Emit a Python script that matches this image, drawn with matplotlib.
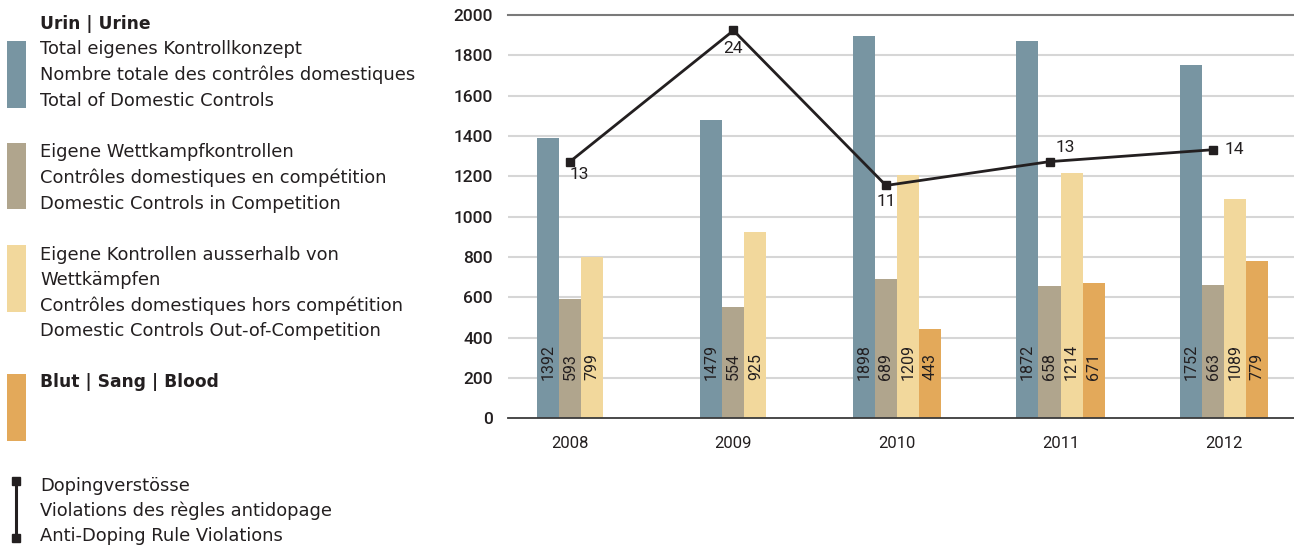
import matplotlib
matplotlib.use("Agg")
import matplotlib.pyplot as plt
from matplotlib.patches import Rectangle
from matplotlib.lines import Line2D

# Data
years = ["2008", "2009", "2010", "2011", "2012"]
urine_total = [1392, 1479, 1898, 1872, 1752]
urine_in_comp = [593, 554, 689, 658, 663]
urine_out_comp = [799, 925, 1209, 1214, 1089]
blood = [None, None, 443, 671, 779]
violations = [13, 24, 11, 13, 14]
y_ticks = [0, 200, 400, 600, 800, 1000, 1200, 1400, 1600, 1800, 2000]

# Styling
C_TOTAL = "#7895A2"
C_COMP = "#B0A58D"
C_OOC = "#F2D89C"
C_BLOOD = "#E3A95A"
C_TEXT = "#231F20"
FONT = ["Roboto", "DejaVu Sans"]
LEGEND_FONT = ["DejaVu Sans"]
NARROW = ["Liberation Sans Narrow", "Roboto", "DejaVu Sans"]
plt.rcParams["font.family"] = FONT

W, H = 1294, 547
fig = plt.figure(figsize=(W / 100, H / 100), dpi=100)

ax_l, ax_r, ax_b, ax_t = 508, 1294, 418.3, 15
ax = fig.add_axes([ax_l / W, 1 - ax_b / H, (ax_r - ax_l) / W, (ax_b - ax_t) / H])

bw = 0.1346
x = list(range(len(years)))
line_x = []
for i in x:
    series = [(urine_total[i], C_TOTAL), (urine_in_comp[i], C_COMP),
              (urine_out_comp[i], C_OOC)]
    if blood[i] is not None:
        series.append((blood[i], C_BLOOD))
    n = len(series)
    for k, (v, c) in enumerate(series):
        xc = i + (k - (n - 1) / 2) * bw
        ax.bar(xc, v, width=bw, color=c, zorder=2, linewidth=0)
        ax.text(xc, 188, str(v), rotation=90, ha="center", va="bottom",
                fontsize=11.5, color=C_TEXT, family=NARROW, zorder=4)
    line_x.append(i + (1 - (n - 1) / 2) * bw)

ax.set_xlim(-0.379, 4.428)
ax.set_ylim(0, 2000)
ax.set_yticks(y_ticks)
ax.set_yticklabels([str(t) for t in y_ticks], fontsize=12.5, fontweight="medium",
                   color=C_TEXT)
ax.set_xticks(x)
ax.set_xticklabels(years, fontsize=12, color=C_TEXT)
ax.tick_params(axis="y", length=0, pad=11)
ax.tick_params(axis="x", length=0, pad=13)
for t in y_ticks[1:-1]:
    ax.axhline(t, color="#D6D6D6", lw=1.5, zorder=1)
ax.axhline(2000, color="#7A7A7A", lw=1.5, zorder=1, clip_on=False)
for s in ["top", "right", "left"]:
    ax.spines[s].set_visible(False)
ax.spines["bottom"].set_color("#3A3A3A")
ax.spines["bottom"].set_linewidth(1.3)
ax.spines["bottom"].set_zorder(3)

# Violations on a hidden secondary scale
ax2 = ax.twinx()
ax2.set_ylim(-8.53, 25.30)
ax2.axis("off")
ax2.plot(line_x, violations, color=C_TEXT, lw=2.0, marker="s", markersize=6,
         zorder=5)
offsets = [(9, -13), (0, -18), (0, -16), (16, 14), (21, 0)]
for xi, v, off in zip(line_x, violations, offsets):
    ax2.annotate(str(v), (xi, v), xytext=off, textcoords="offset pixels",
                 ha="center", va="center", fontsize=12.5, color=C_TEXT)

# Legend on the left
def fy(py):
    return 1 - py / H

def patch(y0, y1, color):
    fig.add_artist(Rectangle((7 / W, fy(y1)), 19 / W, (y1 - y0) / H,
                             transform=fig.transFigure, color=color, lw=0))

def txt(py, s, bold=False):
    fig.text(40 / W, fy(py), s, ha="left", va="center",
             fontsize=12.3 if bold else 12.9,
             color=C_TEXT, family=LEGEND_FONT,
             fontweight="bold" if bold else "normal")

txt(24, "Urin | Urine", bold=True)
patch(41, 108, C_TOTAL)
txt(49, "Total eigenes Kontrollkonzept")
txt(75, "Nombre totale des contrôles domestiques")
txt(101, "Total of Domestic Controls")

patch(143, 209, C_COMP)
txt(152, "Eigene Wettkampfkontrollen")
txt(178, "Contrôles domestiques en compétition")
txt(204, "Domestic Controls in Competition")

patch(245, 312, C_OOC)
txt(255, "Eigene Kontrollen ausserhalb von")
txt(280, "Wettkämpfen")
txt(306, "Contrôles domestiques hors compétition")
txt(331, "Domestic Controls Out-of-Competition")

patch(374, 441, C_BLOOD)
txt(382, "Blut | Sang | Blood", bold=True)

fig.add_artist(Line2D([16 / W, 16 / W], [fy(481), fy(538)],
                      transform=fig.transFigure, color=C_TEXT, lw=2.2,
                      marker="s", markersize=5.5))
txt(486, "Dopingverstösse")
txt(511, "Violations des règles antidopage")
txt(536, "Anti-Doping Rule Violations")

fig.savefig("out.png", dpi=100)
